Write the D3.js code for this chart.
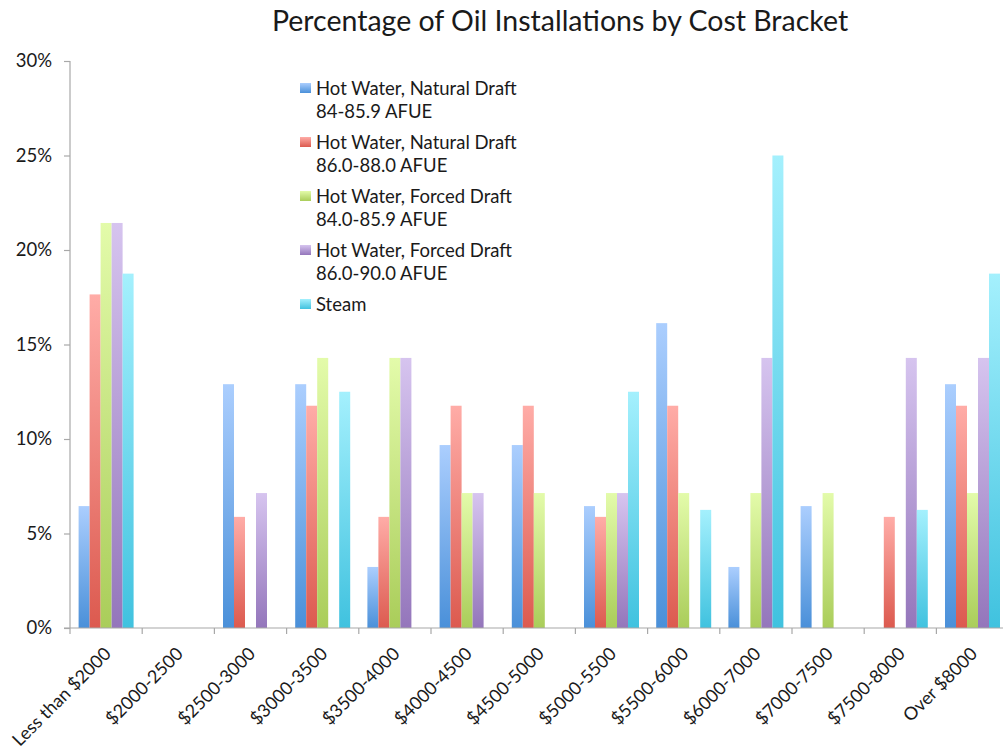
<!DOCTYPE html>
<html>
<head>
<meta charset="utf-8">
<script src="https://cdn.jsdelivr.net/npm/d3@7/dist/d3.min.js"></script>
<style>
  html, body { margin: 0; padding: 0; background: #fff; }
  svg { display: block; }
  text { font-family: Lato, "Open Sans", sans-serif; fill: #1a1a1a; }
</style>
</head>
<body>
<svg id="chart" width="1003" height="750"></svg>
<script>
// Cost brackets along the x axis
const categories = [
  "Less than $2000", "$2000-2500", "$2500-3000", "$3000-3500", "$3500-4000",
  "$4000-4500", "$4500-5000", "$5000-5500", "$5500-6000", "$6000-7000",
  "$7000-7500", "$7500-8000", "Over $8000"
];

// Share of installations (%) in each bracket, per equipment type
const hwNatural84 = [6.45, 0, 12.90, 12.90, 3.23, 9.68, 9.68, 6.45, 16.13, 3.23, 6.45, 0, 12.90];
const hwNatural86 = [17.65, 0, 5.88, 11.76, 5.88, 11.76, 11.76, 5.88, 11.76, 0, 0, 5.88, 11.76];
const hwForced84  = [21.43, 0, 0, 14.29, 14.29, 7.14, 7.14, 7.14, 7.14, 7.14, 7.14, 0, 7.14];
const hwForced86  = [21.43, 0, 7.14, 0, 14.29, 7.14, 0, 7.14, 0, 14.29, 0, 14.29, 14.29];
const steam       = [18.75, 0, 0, 12.5, 0, 0, 0, 12.5, 6.25, 25.0, 0, 6.25, 18.75];

// Legend entries (two lines each where needed)
const seriesNames = [
  ["Hot Water, Natural Draft", "84-85.9 AFUE"],
  ["Hot Water, Natural Draft", "86.0-88.0 AFUE"],
  ["Hot Water, Forced Draft", "84.0-85.9 AFUE"],
  ["Hot Water, Forced Draft", "86.0-90.0 AFUE"],
  ["Steam"]
];
const seriesValues = [hwNatural84, hwNatural86, hwForced84, hwForced86, steam];

const yTicks = [0, 5, 10, 15, 20, 25, 30];

// Light-to-dark vertical gradients for each series
const palette = [
  { top: "#abcefe", bottom: "#4a90d9" },
  { top: "#ffaca7", bottom: "#dc5a4f" },
  { top: "#e3fbaa", bottom: "#aacd5a" },
  { top: "#d6c4ef", bottom: "#9476bb" },
  { top: "#a4f0fd", bottom: "#40c2df" }
];

const svg = d3.select("#chart");
const margin = { left: 70, top: 61, bottom: 628 };
const plotRight = 70 + 13 * 72.2;

const defs = svg.append("defs");
palette.forEach((c, i) => {
  const g = defs.append("linearGradient")
    .attr("id", "grad" + i)
    .attr("x1", 0).attr("y1", 0).attr("x2", 0).attr("y2", 1);
  g.append("stop").attr("offset", "0%").attr("stop-color", c.top);
  g.append("stop").attr("offset", "100%").attr("stop-color", c.bottom);
});

const x0 = d3.scaleBand().domain(categories).range([margin.left, plotRight]).padding(0);
const bw = x0.bandwidth();
const x1 = d3.scaleBand().domain(d3.range(seriesValues.length))
  .range([8.6, bw - 8.6]).padding(0);
const y = d3.scaleLinear().domain([0, 30]).range([margin.bottom, margin.top]);

// Title
svg.append("text")
  .attr("x", 560).attr("y", 31)
  .attr("text-anchor", "middle")
  .style("font-size", "28.5px")
  .text("Percentage of Oil Installations by Cost Bracket");

// Bars
const groups = svg.append("g").selectAll("g")
  .data(categories)
  .join("g")
  .attr("transform", d => `translate(${x0(d)},0)`);

groups.selectAll("rect")
  .data((d, ci) => seriesValues.map((vals, si) => ({ si, v: vals[ci] })).filter(o => o.v > 0))
  .join("rect")
  .attr("x", d => x1(d.si))
  .attr("width", x1.bandwidth())
  .attr("y", d => y(d.v))
  .attr("height", d => y(0) - y(d.v))
  .attr("fill", d => `url(#grad${d.si})`);

// Y axis
const axisColor = "#a8a8a8";
const yAxis = svg.append("g")
  .attr("transform", `translate(${margin.left},0)`)
  .call(d3.axisLeft(y).tickValues(yTicks).tickFormat(d => d + "%").tickSize(6).tickPadding(12));
yAxis.select(".domain").attr("stroke", axisColor).attr("stroke-width", 1.2)
  .attr("d", `M0,${margin.top}V${margin.bottom}`);
yAxis.selectAll(".tick line").attr("stroke", axisColor).attr("stroke-width", 1.2);
yAxis.selectAll(".tick text").style("font-size", "18.5px").style("font-family", "Lato, sans-serif").attr("fill", "#1a1a1a");

// X axis: ticks sit on category boundaries
const xAxisG = svg.append("g");
xAxisG.append("line")
  .attr("x1", margin.left - 6).attr("x2", plotRight)
  .attr("y1", margin.bottom).attr("y2", margin.bottom)
  .attr("stroke", axisColor).attr("stroke-width", 1.2);
xAxisG.selectAll("line.tick")
  .data(categories.concat([null]))
  .join("line")
  .attr("class", "tick")
  .attr("x1", (d, i) => margin.left + i * bw)
  .attr("x2", (d, i) => margin.left + i * bw)
  .attr("y1", margin.bottom).attr("y2", margin.bottom + 6)
  .attr("stroke", axisColor).attr("stroke-width", 1.2);

xAxisG.selectAll("text")
  .data(categories)
  .join("text")
  .attr("text-anchor", "end")
  .attr("transform", d => `translate(${x0(d) + bw / 2 - 3},${margin.bottom + 18}) rotate(-45)`)
  .attr("dy", "0.7em")
  .style("font-size", "18px")
  .text(d => d);

// Legend
const legend = svg.append("g").attr("transform", "translate(300,83)");
seriesNames.forEach((lines, i) => {
  const g = legend.append("g").attr("transform", `translate(0,${i * 54})`);
  g.append("rect").attr("x", 0).attr("y", 0).attr("width", 11).attr("height", 10)
    .attr("fill", `url(#grad${i})`);
  lines.forEach((t, j) => {
    g.append("text").attr("x", 16).attr("y", 12 + j * 23)
      .style("font-size", "18.5px").text(t);
  });
});
</script>
</body>
</html>
